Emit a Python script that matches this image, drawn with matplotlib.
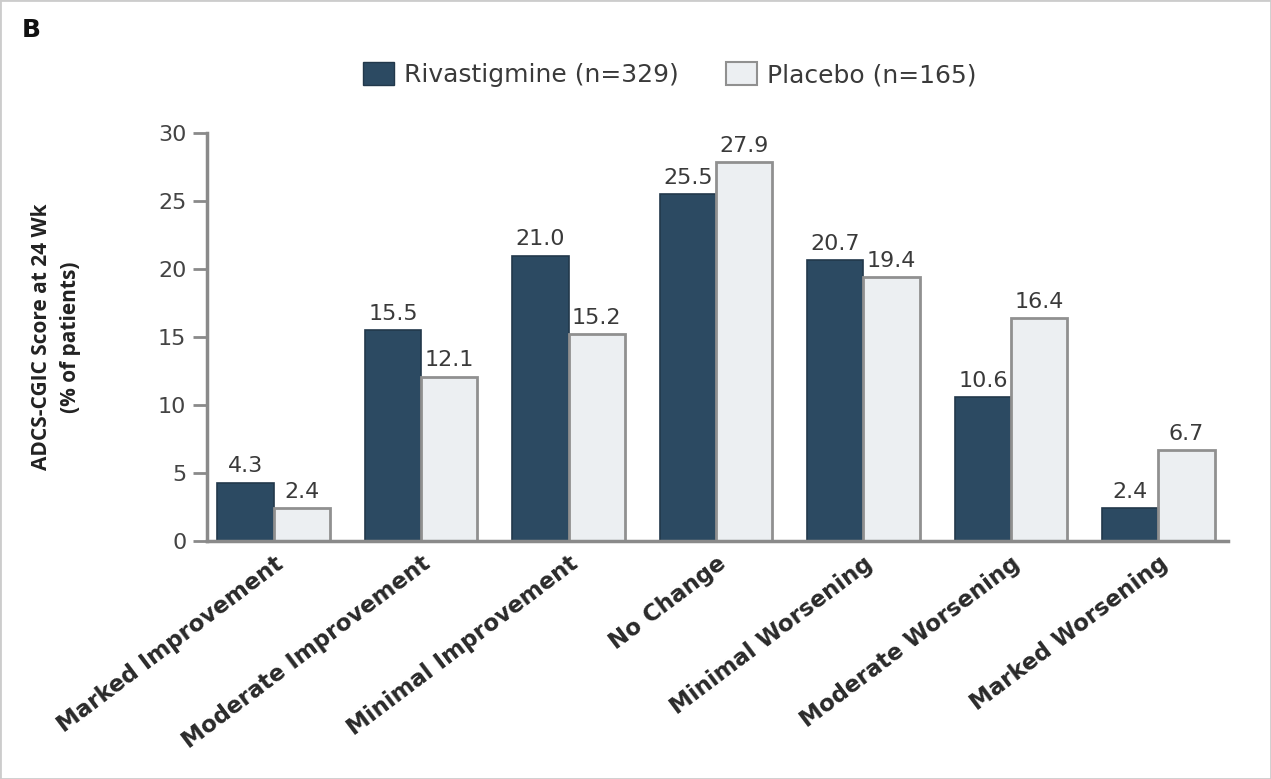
import numpy as np
import matplotlib
matplotlib.use("Agg")
import matplotlib.pyplot as plt
from matplotlib.patches import Patch, Rectangle

plt.rcParams['font.family'] = ['DejaVu Sans']

categories = ['Marked Improvement', 'Moderate Improvement', 'Minimal Improvement',
              'No Change', 'Minimal Worsening', 'Moderate Worsening', 'Marked Worsening']
rivastigmine = [4.3, 15.5, 21.0, 25.5, 20.7, 10.6, 2.4]
placebo = [2.4, 12.1, 15.2, 27.9, 19.4, 16.4, 6.7]
yticks = [0, 5, 10, 15, 20, 25, 30]

dark = '#2c4a62'
light = '#eceff2'
axis_col = '#8a8a8a'

fig = plt.figure(figsize=(12.71, 7.79), dpi=100)
ax = fig.add_axes([0.163, 0.3055, 0.803, 0.5235])

x = np.arange(len(categories))
w = 0.38
b1 = ax.bar(x - w / 2, rivastigmine, w, color=dark, edgecolor='#22384b', linewidth=1.2)
b2 = ax.bar(x + w / 2, placebo, w, color=light, edgecolor='#909090', linewidth=2)

# value labels above each bar
for bars, vals in ((b1, rivastigmine), (b2, placebo)):
    for rect, v in zip(bars, vals):
        ax.text(rect.get_x() + rect.get_width() / 2, v + 0.45, f'{v:.1f}',
                ha='center', va='bottom', fontsize=16, color='#3a3a3a')

ax.set_xlim(-0.45, 6.47)
ax.set_ylim(0, 30)
ax.set_yticks(yticks)
ax.set_yticklabels([str(t) for t in yticks], fontsize=16, color='#444444')
ax.set_xticks(x)
ax.set_xticklabels(categories, rotation=37, ha='right', rotation_mode='anchor',
                   fontsize=16.5, fontweight='bold', color='#2a2a2a')
ax.tick_params(axis='x', length=0, pad=8)
ax.tick_params(axis='y', length=10, width=2, color=axis_col, pad=5)

for s in ['top', 'right']:
    ax.spines[s].set_visible(False)
for s in ['left', 'bottom']:
    ax.spines[s].set_color(axis_col)
    ax.spines[s].set_linewidth(2.5)

ax.set_ylabel('ADCS-CGIC Score at 24 Wk\n(% of patients)', fontsize=15,
              fontweight='bold', color='#222222', family='Open Sans', linespacing=1.5)
ax.yaxis.set_label_coords(-0.124, 0.5)

handles = [Patch(facecolor=dark, edgecolor='#22384b', label='Rivastigmine (n=329)'),
           Patch(facecolor=light, edgecolor='#909090', linewidth=1.5, label='Placebo (n=165)')]
fig.legend(handles=handles, loc='center', bbox_to_anchor=(0.527, 0.904), ncol=2,
           frameon=False, fontsize=18, handlelength=1.25, handleheight=1.05,
           columnspacing=1.9, handletextpad=0.4, labelcolor='#3a3a3a')

fig.text(0.0245, 0.962, 'B', fontsize=18, fontweight='bold', color='#111111',
         ha='center', va='center')

fig.patches.append(Rectangle((0, 0), 1, 1, transform=fig.transFigure, fill=False,
                             edgecolor='#cccccc', linewidth=2))

fig.savefig('out.png', dpi=100)
